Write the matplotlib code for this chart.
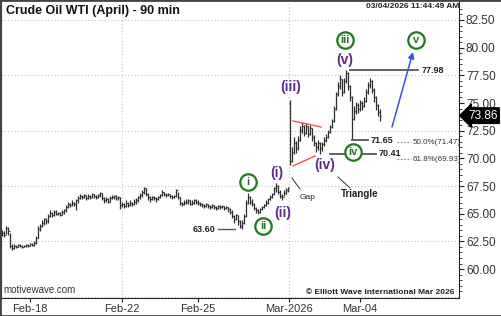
import matplotlib
matplotlib.use("Agg")
import matplotlib.pyplot as plt
import matplotlib.patches as mpatches
from matplotlib.transforms import blended_transform_factory
import numpy as np

plt.rcParams['font.family'] = ['Liberation Sans', 'DejaVu Sans']

# ---------------- data (90-min OHLC bars) ----------------
closes = [63.3, 63.1, 63.7, 63.4, 62.1, 61.9, 62.1, 62.0, 62.2, 62.1,
          62.0, 62.1, 62.2, 62.1, 62.3, 62.2, 62.4, 62.8, 63.6, 63.9,
          64.2, 64.5, 64.3, 64.8, 65.1, 64.9, 65.2, 65.0, 65.1, 64.9,
          65.2, 65.3, 65.6, 65.9, 65.8, 66.0, 65.9, 66.2, 66.4, 66.6,
          66.5, 66.7, 66.4, 66.6, 66.5, 66.8, 66.6, 66.5, 66.7, 66.9,
          66.4, 66.2, 66.3, 66.1, 66.4, 66.5, 66.6, 66.4, 66.5, 65.8,
          65.9, 65.7, 66.0, 65.8, 66.0, 65.9, 66.1, 66.2, 66.5, 66.7,
          67.0, 67.3, 66.8, 66.5, 66.3, 66.5, 66.4, 66.3, 66.5, 66.7,
          67.0, 66.8, 66.7, 66.8, 66.6, 66.5, 66.6, 67.1, 66.5, 66.0,
          65.9, 66.0, 66.1, 66.2, 65.9, 66.0, 66.2, 66.1, 66.0, 65.9,
          65.8, 65.7, 65.9, 65.7, 65.6, 65.8, 65.6, 65.5, 65.7, 65.6,
          65.7, 65.5, 65.6, 65.4, 65.2, 64.8, 64.5, 64.9, 64.3, 63.9,
          64.2, 64.8, 66.0, 66.5, 66.1, 65.9, 65.5, 65.3, 65.2, 65.4,
          65.6, 65.8, 66.0, 66.3, 66.5, 66.8, 67.3, 67.5, 67.0, 66.6,
          66.5, 66.9, 67.1, 67.3, 69.8, 70.6, 71.4, 70.9, 71.7, 72.6,
          72.9, 72.3, 72.9, 72.2, 72.7, 71.9, 71.4, 71.0, 71.4, 70.9,
          71.3, 71.7, 71.9, 72.4, 72.8, 73.4, 74.5, 75.8, 76.5, 77.2,
          76.0, 77.0, 77.7, 76.5, 75.5, 73.6, 74.3, 74.8, 74.5, 75.0,
          74.7, 75.2, 76.0, 76.6, 77.0, 76.2, 75.5, 74.8, 74.2, 73.86]

opens = [63.1, 63.3, 63.1, 63.7, 63.4, 62.1, 61.9, 62.1, 62.0, 62.2,
         62.1, 62.0, 62.1, 62.2, 62.1, 62.3, 62.2, 62.4, 62.8, 63.6,
         63.9, 64.2, 64.5, 64.3, 64.8, 65.1, 64.9, 65.2, 65.0, 65.1,
         64.9, 65.2, 65.3, 65.6, 65.9, 65.8, 66.0, 65.9, 66.2, 66.4,
         66.6, 66.5, 66.7, 66.4, 66.6, 66.5, 66.8, 66.6, 66.5, 66.7,
         66.9, 66.4, 66.2, 66.3, 66.1, 66.4, 66.5, 66.6, 66.4, 66.5,
         65.8, 65.9, 65.7, 66.0, 65.8, 66.0, 65.9, 66.1, 66.2, 66.5,
         66.7, 67.0, 67.3, 66.8, 66.5, 66.3, 66.5, 66.4, 66.3, 66.5,
         66.7, 67.0, 66.8, 66.7, 66.8, 66.6, 66.5, 66.6, 67.1, 66.5,
         66.0, 65.9, 66.0, 66.1, 66.2, 65.9, 66.0, 66.2, 66.1, 66.0,
         65.9, 65.8, 65.7, 65.9, 65.7, 65.6, 65.8, 65.6, 65.5, 65.7,
         65.6, 65.7, 65.5, 65.6, 65.4, 65.2, 64.8, 64.5, 64.9, 64.3,
         63.9, 64.2, 64.8, 66.0, 66.5, 66.1, 65.9, 65.5, 65.3, 65.2,
         65.4, 65.6, 65.8, 66.0, 66.3, 66.5, 66.8, 67.3, 67.5, 67.0,
         66.6, 66.5, 66.9, 67.1, 75.0, 69.8, 70.6, 71.4, 70.9, 71.7,
         72.6, 72.9, 72.3, 72.9, 72.2, 72.7, 71.9, 71.4, 71.0, 71.4,
         70.9, 71.3, 71.7, 71.9, 72.4, 72.8, 73.4, 74.5, 75.8, 76.5,
         77.2, 76.0, 77.0, 77.7, 76.5, 75.5, 73.6, 74.3, 74.8, 74.5,
         75.0, 74.7, 75.2, 76.0, 76.6, 77.0, 76.2, 75.5, 74.8, 74.2]

highs = [63.5, 63.4, 63.9, 63.8, 63.3, 62.3, 62.3, 62.2, 62.3, 62.25,
         62.2, 62.2, 62.3, 62.3, 62.4, 62.4, 62.5, 63.0, 63.9, 64.1,
         64.4, 64.6, 64.6, 65.0, 65.3, 65.2, 65.3, 65.3, 65.2, 65.2,
         65.3, 65.4, 65.8, 66.1, 66.0, 66.2, 66.1, 66.3, 66.6, 66.8,
         66.7, 66.8, 66.7, 66.8, 66.7, 66.9, 66.8, 66.7, 66.8, 67.0,
         66.9, 66.5, 66.5, 66.4, 66.6, 66.7, 66.7, 66.7, 66.6, 66.5,
         66.1, 66.0, 66.2, 66.1, 66.2, 66.1, 66.3, 66.4, 66.6, 66.9,
         67.1, 67.4, 67.3, 66.9, 66.6, 66.6, 66.6, 66.5, 66.6, 66.8,
         67.1, 67.0, 66.9, 66.9, 66.8, 66.7, 66.7, 67.2, 67.0, 66.5,
         66.1, 66.2, 66.3, 66.3, 66.2, 66.2, 66.3, 66.3, 66.2, 66.1,
         66.0, 65.9, 66.0, 65.9, 65.8, 65.9, 65.8, 65.7, 65.8, 65.8,
         65.8, 65.7, 65.7, 65.6, 65.5, 65.3, 64.9, 65.0, 64.9, 64.4,
         64.4, 65.0, 66.2, 66.85, 66.6, 66.3, 66.0, 65.6, 65.4, 65.5,
         65.7, 65.9, 66.2, 66.4, 66.7, 66.9, 67.4, 67.8, 67.6, 67.1,
         66.8, 67.1, 67.3, 67.4, 75.3, 71.0, 71.9, 71.6, 72.0, 72.9,
         73.3, 73.0, 73.2, 72.9, 73.0, 72.7, 72.1, 71.5, 71.7, 71.5,
         71.5, 71.9, 72.2, 72.6, 73.0, 73.6, 74.7, 76.0, 76.9, 77.5,
         77.2, 77.3, 77.98, 77.8, 76.6, 75.6, 74.7, 75.1, 75.0, 75.3,
         75.2, 75.5, 76.3, 76.9, 77.3, 77.1, 76.4, 75.6, 74.9, 74.5]

lows = [63.0, 62.9, 63.2, 63.1, 61.9, 61.75, 61.8, 61.9, 61.95, 61.95,
        61.9, 61.95, 62.0, 62.0, 62.05, 62.1, 62.1, 62.3, 62.8, 63.4,
        63.8, 64.0, 64.1, 64.2, 64.7, 64.7, 64.8, 64.9, 64.9, 64.8,
        64.9, 65.0, 65.2, 65.5, 65.6, 65.7, 65.7, 65.3, 66.0, 66.3,
        66.3, 66.4, 66.2, 66.3, 66.3, 66.4, 66.4, 66.3, 66.4, 66.5,
        66.2, 66.0, 66.1, 66.0, 66.1, 66.3, 66.3, 66.2, 66.2, 65.4,
        65.6, 65.5, 65.6, 65.6, 65.7, 65.7, 65.8, 65.9, 66.1, 66.3,
        66.5, 66.8, 66.6, 66.2, 66.1, 66.2, 66.2, 66.1, 66.2, 66.4,
        66.6, 66.6, 66.5, 66.6, 66.4, 66.3, 66.4, 66.5, 66.3, 65.8,
        65.7, 65.8, 65.9, 65.9, 65.8, 65.8, 65.9, 65.9, 65.8, 65.7,
        65.6, 65.5, 65.6, 65.5, 65.4, 65.5, 65.4, 65.3, 65.4, 65.4,
        65.5, 65.3, 65.4, 65.2, 65.0, 64.6, 64.2, 64.4, 64.0, 63.7,
        63.6, 64.1, 64.7, 65.9, 65.9, 65.7, 65.3, 65.1, 65.0, 65.1,
        65.3, 65.5, 65.7, 65.9, 66.2, 66.4, 66.7, 67.0, 66.8, 66.4,
        66.2, 66.6, 66.8, 67.0, 69.4, 69.7, 70.4, 70.5, 70.8, 71.6,
        72.3, 72.0, 72.2, 71.9, 72.1, 71.6, 71.1, 70.6, 70.8, 70.41,
        70.7, 71.1, 71.5, 71.8, 72.3, 72.7, 73.3, 74.4, 75.6, 76.3,
        75.6, 75.9, 76.8, 76.2, 75.2, 71.65, 73.5, 74.0, 74.1, 74.3,
        74.4, 74.6, 75.1, 75.8, 76.4, 75.9, 75.1, 74.4, 73.8, 73.4]

date_labels = ['Feb-18', 'Feb-22', 'Feb-25', 'Mar-2026', 'Mar-04']
date_bar_index = [14, 60, 98, 143.5, 179]
week_start_index = [60, 143.5]

last_price = 73.86
wave_high = 77.98
wave_low_a = 71.65
wave_low_iv = 70.41
low_label = 63.60
fib_levels = [71.47, 69.93]
fib_labels = ['50.0%(71.47)', '61.8%(69.93)']
y_ticks = [60.0, 62.5, 65.0, 67.5, 70.0, 72.5, 75.0, 77.5, 80.0, 82.5]

# ---------------- figure ----------------
W, H = 502, 316
fig = plt.figure(figsize=(W / 100, H / 100), dpi=100)
fig.patch.set_facecolor('white')

def px(x, y):
    return x / W, 1 - y / H

ax_l, ax_r, ax_t, ax_b = 1, 459, 2, 298
ax = fig.add_axes([ax_l / W, 1 - ax_b / H, (ax_r - ax_l) / W, (ax_b - ax_t) / H])
ax.set_facecolor('white')

# pixel -> data helpers (for annotation placement)
def dx(xp):
    return (xp - 2) / 2.0

def dy(yp):
    return 82.5 - (yp - 20) / 11.07

ax.set_xlim(dx(ax_l), dx(ax_r))
ax.set_ylim(dy(ax_b), dy(ax_t))

idx = np.arange(len(closes))
bar_c = '#2e2e2e'
ax.vlines(idx, lows, highs, color=bar_c, lw=0.9, zorder=3)
ax.hlines(opens, idx - 0.55, idx, color=bar_c, lw=0.8, zorder=3)
ax.hlines(closes, idx, idx + 0.55, color=bar_c, lw=0.8, zorder=3)

# grid
grid_kw = dict(color='#c4c4c4', lw=0.8, ls=(0, (1, 2)), zorder=1)
for g in np.arange(57.5, 83.0, 5.0):
    ax.axhline(g, **grid_kw)
for w in week_start_index:
    ax.axvline(w, **grid_kw)

# axes styling
for s in ['top']:
    ax.spines[s].set_visible(False)
ax.spines['left'].set_color('#222')
ax.spines['bottom'].set_color('#222')
ax.spines['right'].set_color('#222')
ax.yaxis.tick_right()
ax.set_yticks(y_ticks)
ax.set_yticklabels([f'{v:.2f}' for v in y_ticks])
ax.set_yticks(np.arange(58.0, 84.0, 0.5), minor=True)
ax.tick_params(axis='y', which='major', length=3.5, width=0.8, color='#222',
               labelsize=8.5, labelcolor='#333', pad=1.5)
ax.tick_params(axis='y', which='minor', length=2, width=0.6, color='#222')
ax.set_xticks(date_bar_index)
ax.set_xticklabels(date_labels)
ax.tick_params(axis='x', which='major', length=3, width=0.8, color='#222',
               labelsize=8, labelcolor='#333', pad=1.5)

# ---------------- annotations ----------------
purple = '#5b2a8c'
green = '#1f7a1f'
dark = '#222222'

def circ(xp, yp, t):
    ax.scatter([dx(xp)], [dy(yp)], s=140, facecolor='white', edgecolor=green,
               linewidths=1.6, zorder=6)
    ax.text(dx(xp), dy(yp), t, color=green, fontsize=8, fontweight='bold',
            ha='center', va='center', zorder=7)

def wave(xp, yp, t):
    ax.text(dx(xp), dy(yp), t, color=purple, fontsize=10, fontweight='bold',
            ha='center', va='center', zorder=7)

circ(248, 182, 'i')
circ(263, 226, 'ii')
circ(345, 40, 'iii')
circ(353, 152, 'iv')
circ(416, 40, 'v')
wave(277, 173, '(i)')
wave(283, 213, '(ii)')
wave(291, 87, '(iii)')
wave(325, 165, '(iv)')
wave(345, 60, '(v)')

# red triangle
ax.plot([dx(293), dx(321)], [dy(121), dy(127)], color='#ee5555', lw=1, zorder=4)
ax.plot([dx(293), dx(315)], [dy(166), dy(156)], color='#ee5555', lw=1, zorder=4)

# level lines
lvl_c = '#555555'
ax.plot([dx(350), dx(418)], [wave_high, wave_high], color=lvl_c, lw=1.3, zorder=4)
ax.text(dx(422), wave_high, f'{wave_high:.2f}', fontsize=6.5, fontweight='bold',
        color=dark, va='center', ha='left')
ax.plot([dx(352), dx(368)], [wave_low_a, wave_low_a], color=lvl_c, lw=1.3, zorder=4)
ax.text(dx(371), wave_low_a, f'{wave_low_a:.2f}', fontsize=6.5, fontweight='bold',
        color=dark, va='center', ha='left')
ax.plot([dx(330), dx(376)], [wave_low_iv, wave_low_iv], color=lvl_c, lw=1.3, zorder=4)
ax.text(dx(379), wave_low_iv, f'{wave_low_iv:.2f}', fontsize=6.5, fontweight='bold',
        color=dark, va='center', ha='left')
ax.plot([dx(218), dx(235)], [low_label, low_label], color=lvl_c, lw=1.0, zorder=4)
ax.text(dx(215), low_label, f'{low_label:.2f}', fontsize=6.5, fontweight='bold',
        color=dark, va='center', ha='right')

for lv, lb in zip(fib_levels, fib_labels):
    ax.plot([dx(397), dx(411)], [lv, lv], color='#888', lw=0.8, ls=(0, (1.5, 1.5)), zorder=4)
    ax.text(dx(413), lv, lb, fontsize=5.8, color='#333', va='center', ha='left',
            clip_on=False)

# Gap / Triangle notes
ax.plot([dx(292), dx(300)], [dy(178), dy(189)], color='#333', lw=0.7)
ax.text(dx(308), dy(197), 'Gap', fontsize=6, color='#222', ha='center', va='center')
ax.plot([dx(338), dx(350)], [dy(177), dy(188)], color='#333', lw=0.7)
ax.text(dx(360), dy(194), 'Triangle', fontsize=7, fontweight='bold', color='#222',
        ha='center', va='center')

# blue projection arrow
ax.annotate('', xy=(dx(413), dy(52)), xytext=(dx(392), dy(127)),
            arrowprops=dict(arrowstyle='-|>', color='#3b4fe4', lw=1.1,
                            mutation_scale=9, shrinkA=0, shrinkB=0), zorder=5)

# last price tag
tr = blended_transform_factory(ax.transAxes, ax.transData)
ax.text(1 + 9 / (ax_r - ax_l), last_price, f'{last_price:.2f}', transform=tr,
        fontsize=8.5, color='white', va='center', ha='left', clip_on=False, zorder=10,
        bbox=dict(boxstyle='larrow,pad=0.15', facecolor='black', edgecolor='black'))

# figure texts
fig.text(*px(6, 11), 'Crude Oil WTI (April) - 90 min', fontsize=9, fontweight='bold',
         color='#111', ha='left', va='center')
fig.text(*px(459, 7), '03/04/2026 11:44:49 AM', fontsize=6, fontweight='bold',
         color='#222', ha='right', va='center')
fig.text(*px(3, 290), 'motivewave.com', fontsize=7, color='#333', ha='left', va='center')
fig.text(*px(454, 293), '\u00a9 Elliott Wave International Mar 2026', fontsize=6,
         fontweight='bold', color='#222', ha='right', va='center')

# outer frame
fig.patches.append(mpatches.Rectangle((0, 0), 1, 1, transform=fig.transFigure,
                                      fill=False, edgecolor='#444', lw=2.0))

fig.savefig('out.png', dpi=100)
